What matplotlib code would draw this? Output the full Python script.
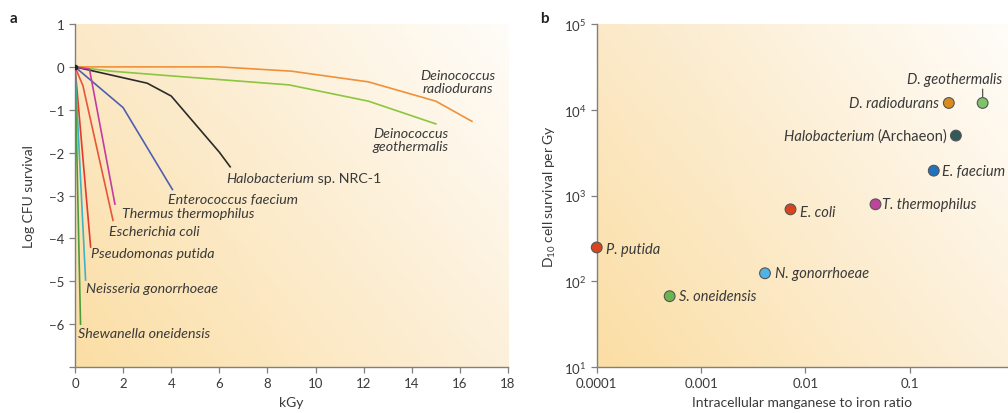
import numpy as np
import matplotlib
matplotlib.use("Agg")
import matplotlib.pyplot as plt
from matplotlib.colors import to_rgb

plt.rcParams["font.family"] = ["Lato", "DejaVu Sans"]
plt.rcParams["mathtext.fontset"] = "custom"
plt.rcParams["mathtext.rm"] = "Lato"
plt.rcParams["axes.unicode_minus"] = True

# ---- panel a: survival curves (kGy, log CFU survival) ----
species_a = ["Deinococcus\nradiodurans", "Deinococcus\ngeothermalis",
             "Halobacterium", "Enterococcus faecium",
             "Thermus thermophilus", "Escherichia coli", "Pseudomonas putida",
             "Neisseria gonorrhoeae", "Shewanella oneidensis"]
dose = [
    [0, 6, 9, 12.2, 15, 16.5],
    [0, 1.5, 4, 8.9, 12.2, 15],
    [0, 3, 4, 6, 6.45],
    [0, 2, 4.05],
    [0, 0.6, 1.66],
    [0, 0.33, 1.58],
    [0, 0.65],
    [0, 0.44],
    [0, 0.23],
]
log_surv = [
    [0, 0, -0.1, -0.35, -0.8, -1.27],
    [0, -0.1, -0.21, -0.42, -0.8, -1.33],
    [0, -0.38, -0.68, -1.99, -2.33],
    [0, -0.95, -2.86],
    [0, -0.05, -3.2],
    [0, -0.44, -3.58],
    [0, -4.2],
    [0, -4.97],
    [0, -6.0],
]
colors_a = ["#f0913a", "#8cc63f", "#2b2b2b", "#4f5fb0", "#c63c9c",
            "#e8553a", "#e33a2c", "#3fb3c4", "#4d9c3c"]
# label anchor (x, y) in data units
label_x = [15.9, 13.95, 6.28, 3.87, 1.95, 1.43, 0.67, 0.46, 0.14]
label_y = [-0.33, -1.7, -2.58, -3.08, -3.4, -3.82, -4.35, -5.16, -6.21]

# ---- panel b: D10 vs Mn/Fe ratio ----
species_b = ["P. putida", "S. oneidensis", "N. gonorrhoeae", "E. coli",
             "T. thermophilus", "E. faecium", "Halobacterium",
             "D. radiodurans", "D. geothermalis"]
mn_fe = [0.0001, 0.0005, 0.0041, 0.0072, 0.047, 0.17, 0.277, 0.237, 0.50]
d10 = [248, 67, 124, 690, 790, 1950, 5000, 12000, 12000]
colors_b = ["#d9441e", "#6ab54f", "#4fb3e3", "#d9441e", "#c0449e",
            "#1f72c0", "#2f5a58", "#d98c1c", "#7cc36a"]

txt = "#3a3a3a"
spine_c = "#808080"


def gradient_bg(ax):
    bl, tl = np.array(to_rgb("#fbdea4")), np.array(to_rgb("#fbe9c8"))
    br, tr = np.array(to_rgb("#fdf0da")), np.array(to_rgb("#fffdf9"))
    n = 200
    u = np.linspace(0, 1, n)[None, :, None]
    v = np.linspace(0, 1, n)[:, None, None]
    img = (1 - u) * (1 - v) * bl + u * (1 - v) * br + (1 - u) * v * tl + u * v * tr
    ax.imshow(img, extent=(0, 1, 0, 1), origin="lower", transform=ax.transAxes,
              aspect="auto", zorder=0)


def style(ax):
    for s in ["top", "right"]:
        ax.spines[s].set_visible(False)
    for s in ["left", "bottom"]:
        ax.spines[s].set_color(spine_c)
        ax.spines[s].set_linewidth(1.0)
    ax.tick_params(colors=spine_c, labelcolor=txt, labelsize=9.5, length=4,
                   width=0.9, direction="out")


fig = plt.figure(figsize=(10.08, 4.14), dpi=100)

# panel a
axa = fig.add_axes([0.0744, 0.111, 0.4296, 0.8286])
gradient_bg(axa)
for xs, ys, c in zip(dose, log_surv, colors_a):
    axa.plot(xs, ys, color=c, lw=1.2, zorder=3)
axa.plot(0, 0, "o", color="#222", ms=3, zorder=4)
for name, lx, ly in zip(species_a, label_x, label_y):
    ha = "center" if "\n" in name else "left"
    t = axa.text(lx, ly, name, style="italic", fontsize=10.3, color=txt,
                 va="center", ha=ha, linespacing=1.1, zorder=5)
    if name == "Halobacterium":
        axa.annotate(" sp. NRC-1", xy=(1, 0.5), xycoords=t, fontsize=10.3,
                     color=txt, va="center", ha="left")

axa.set_xlim(0, 18)
axa.set_ylim(-7, 1)
axa.set_xticks(range(0, 19, 2))
axa.set_yticks(range(-7, 2))
axa.set_yticklabels([""] + ["\u2212%d" % k for k in range(6, 0, -1)] + ["0", "1"])
style(axa)
axa.set_xlabel("kGy", fontsize=10, color=txt, labelpad=5)
axa.set_ylabel("Log CFU survival", fontsize=10, color=txt, labelpad=10)

# panel b
axb = fig.add_axes([0.592, 0.111, 0.408, 0.8286])
gradient_bg(axb)
axb.set_xscale("log")
axb.set_yscale("log")
axb.scatter(mn_fe, d10, s=60, c=colors_b, edgecolors="#555555", linewidths=0.8,
            zorder=4, clip_on=False)
offsets = {
    "P. putida": (7, -1, "left"),
    "S. oneidensis": (7, 0, "left"),
    "N. gonorrhoeae": (7, 0, "left"),
    "E. coli": (7, -2, "left"),
    "T. thermophilus": (5, 0, "left"),
    "E. faecium": (6, 0, "left"),
    "Halobacterium": (-6, 0, "right"),
    "D. radiodurans": (-7, 0, "right"),
    "D. geothermalis": (14, 17, "right"),
}
for name, x, y in zip(species_b, mn_fe, d10):
    dx, dy, ha = offsets[name]
    if name == "Halobacterium":
        a1 = axb.annotate("(Archaeon)", xy=(x, y), xytext=(dx, dy),
                          textcoords="offset points", fontsize=10.5, color=txt,
                          ha="right", va="center")
        axb.annotate("Halobacterium ", xy=(0, 0.5), xycoords=a1, fontsize=10.5,
                     color=txt, style="italic", ha="right", va="center")
        continue
    axb.annotate(name, xy=(x, y), xytext=(dx, dy), textcoords="offset points",
                 fontsize=10.5, color=txt, style="italic", ha=ha, va="center")
# leader line for D. geothermalis
axb.annotate("", xy=(mn_fe[-1], d10[-1]), xytext=(0, 10),
             textcoords="offset points",
             arrowprops=dict(arrowstyle="-", color="#555555", lw=0.9,
                             shrinkA=0, shrinkB=4.5))

axb.set_xlim(1e-4, 0.875)
axb.set_ylim(10, 1e5)
axb.set_xticks([1e-4, 1e-3, 1e-2, 1e-1])
axb.set_xticklabels(["0.0001", "0.001", "0.01", "0.1"])
axb.set_yticks([1e1, 1e2, 1e3, 1e4, 1e5])
axb.set_yticklabels([r"10$^{%d}$" % k for k in range(1, 6)])
axb.minorticks_off()
style(axb)
axb.set_xlabel("Intracellular manganese to iron ratio", fontsize=10, color=txt,
               labelpad=5)
axb.set_ylabel(r"D$_{10}$ cell survival per Gy", fontsize=10, color=txt,
               labelpad=4)

fig.text(0.010, 0.945, "a", fontsize=11, fontweight="bold", color="#222")
fig.text(0.536, 0.945, "b", fontsize=11, fontweight="bold", color="#222")

fig.savefig("out.png", dpi=100)
